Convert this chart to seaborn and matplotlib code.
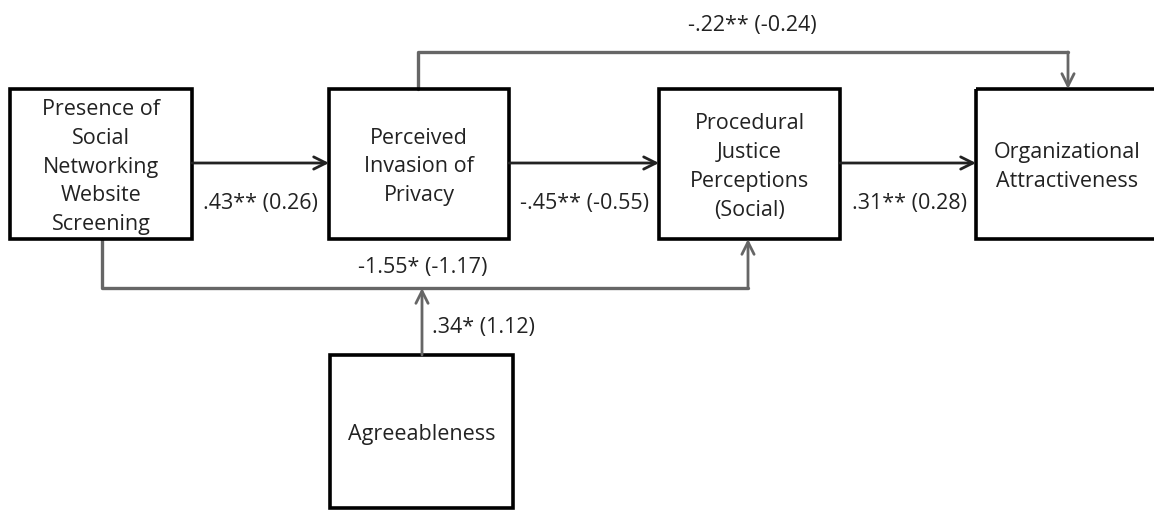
import matplotlib
matplotlib.use("Agg")
import matplotlib.pyplot as plt
import seaborn as sns
from matplotlib.patches import Rectangle

# Path model data
nodes = [
    "Presence of\nSocial\nNetworking\nWebsite\nScreening",
    "Perceived\nInvasion of\nPrivacy",
    "Procedural\nJustice\nPerceptions\n(Social)",
    "Organizational\nAttractiveness",
    "Agreeableness",
]
paths = ["screen->privacy", "privacy->justice", "justice->attract",
         "privacy->attract", "screen->justice", "agree->moderation"]
std_coef = [0.43, -0.45, 0.31, -0.22, -1.55, 0.34]
raw_coef = [0.26, -0.55, 0.28, -0.24, -1.17, 1.12]
stars = ["**", "**", "**", "**", "*", "*"]


def fmt(beta, b, s):
    # standardized coefficient drops leading zero, unstandardized in brackets
    if abs(beta) < 1:
        txt = f"{beta:.2f}".replace("0.", ".")
    else:
        txt = f"{beta:.2f}"
    return f"{txt}{s} ({b:.2f})"


labels = [fmt(a, b, s) for a, b, s in zip(std_coef, raw_coef, stars)]

# layout (pixel space, y down)
boxes = [(10, 89, 182, 150), (329, 89, 180, 150), (659, 89, 181, 150),
         (976, 89, 182, 150), (330, 355, 183, 153)]

sns.set_style("white")
plt.rcParams["font.family"] = ["Open Sans", "DejaVu Sans"]
FS = 15.5

fig = plt.figure(figsize=(11.54, 5.11), dpi=100)
ax = fig.add_axes([0, 0, 1, 1])
ax.set_xlim(0, 1154)
ax.set_ylim(511, 0)
ax.axis("off")

for (x, y, w, h), name in zip(boxes, nodes):
    ax.add_patch(Rectangle((x, y), w, h, fill=False, ec="black", lw=2.6,
                           joinstyle="miter", zorder=3))
    ax.text(x + w / 2, y + h / 2 + 3, name, ha="center", va="center",
            fontsize=FS, color="#222222", linespacing=1.48, zorder=4)

grey = "#666666"
arrow_kw = dict(arrowstyle="->", lw=2, mutation_scale=22, shrinkA=0, shrinkB=0)

# straight arrows between the main boxes
mid_y = 163
for i in range(3):
    x0 = boxes[i][0] + boxes[i][2]
    x1 = boxes[i + 1][0]
    ax.annotate("", xy=(x1, mid_y), xytext=(x0, mid_y),
                arrowprops=dict(color="#222222", **arrow_kw))

line_kw = dict(sort=False, estimator=None, color=grey, lw=2.4, ax=ax)

# privacy -> attractiveness over the top
top_y = 52
sns.lineplot(x=[418, 418, 1068], y=[89, top_y, top_y], **line_kw)
ax.annotate("", xy=(1068, 89), xytext=(1068, top_y),
            arrowprops=dict(color=grey, **arrow_kw))

# screening -> justice underneath
bot_y = 288
sns.lineplot(x=[102, 102, 748], y=[239, bot_y, bot_y], **line_kw)
ax.annotate("", xy=(748, 239), xytext=(748, bot_y),
            arrowprops=dict(color=grey, **arrow_kw))

# agreeableness moderates the lower path
ax.annotate("", xy=(422, bot_y), xytext=(422, 355),
            arrowprops=dict(color=grey, **arrow_kw))

label_pos = [(260, 203), (585, 203), (910, 203), (752, 25), (423, 267), (483, 327)]
for (lx, ly), txt in zip(label_pos, labels):
    ax.text(lx, ly, txt, ha="center", va="center", fontsize=FS, color="#222222")

fig.savefig("out.png", dpi=100)
